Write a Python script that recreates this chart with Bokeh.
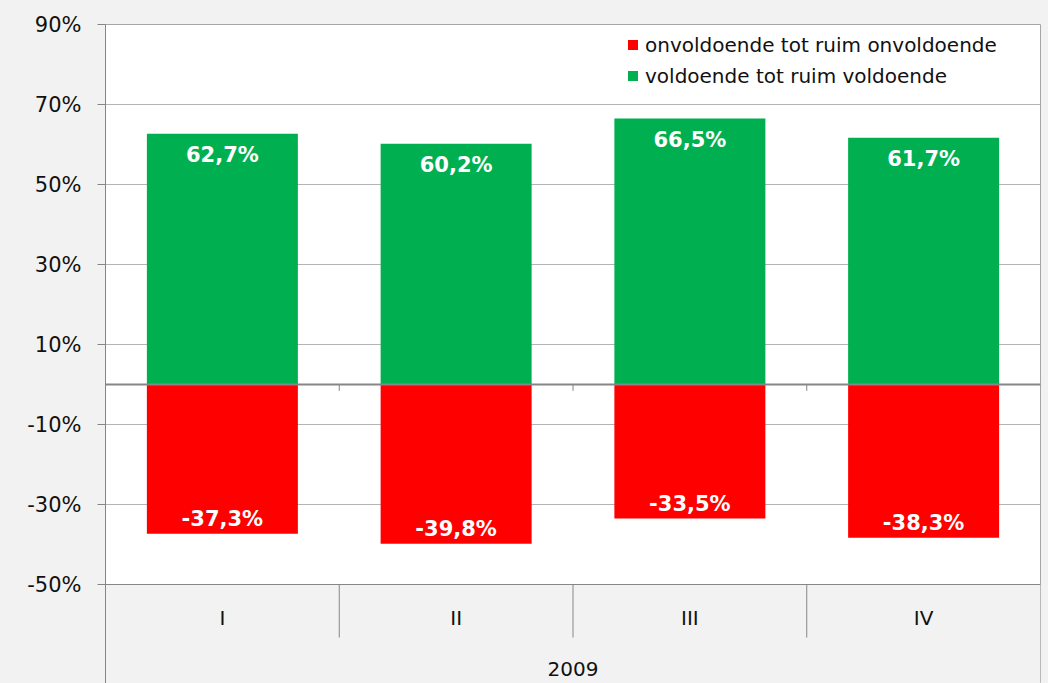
from bokeh.plotting import figure
from bokeh.models import (FactorRange, Range1d, FixedTicker, PrintfTickFormatter, Span,
                          Legend, LegendItem, ColumnDataSource)
from bokeh.core.properties import value
from bokeh.embed import file_html
from bokeh.resources import INLINE

# ---- data ----
categories = ["I", "II", "III", "IV"]
group_label = "2009"
voldoende = [62.7, 60.2, 66.5, 61.7]
onvoldoende = [-37.3, -39.8, -33.5, -38.3]
y_ticks = [-50, -30, -10, 10, 30, 50, 70, 90]
series_names = ["onvoldoende tot ruim onvoldoende", "voldoende tot ruim voldoende"]

RED = "#ff0000"
GREEN = "#00b050"
BG = "#f2f2f2"
FONT = "DejaVu Sans"
AXIS = "#868686"
GRID = "#b4b4b4"

Y_MIN = -74.75
Y_MAX = 90
AXIS_FLOOR = -50

def fmt(v):
    return ("%.1f" % v).replace(".", ",") + "%"

p = figure(width=1048, height=683,
           x_range=FactorRange(factors=categories, range_padding=0, factor_padding=0),
           y_range=Range1d(Y_MIN, Y_MAX),
           x_axis_location=None,
           output_backend="svg", toolbar_location=None,
           min_border_left=105, min_border_right=8, min_border_top=24, min_border_bottom=0)

p.background_fill_color = "white"
p.border_fill_color = BG
p.outline_line_color = "#a6a6a6"
p.outline_line_width = 1

# y axis
p.yaxis.ticker = FixedTicker(ticks=y_ticks)
p.yaxis.formatter = PrintfTickFormatter(format="%d%%")
p.yaxis.axis_line_color = AXIS
p.yaxis.major_tick_line_color = AXIS
p.yaxis.major_tick_out = 8
p.yaxis.major_tick_in = 0
p.yaxis.minor_tick_line_color = None
p.yaxis.major_label_text_font = FONT
p.yaxis.major_label_text_font_size = "21px"
p.yaxis.major_label_text_color = "#111111"
p.yaxis.major_label_standoff = 16

p.ygrid.ticker = FixedTicker(ticks=y_ticks)
p.ygrid.grid_line_color = GRID
p.ygrid.grid_line_width = 1
p.xgrid.visible = False

n = len(categories)

# grey category-axis region below the plot area (drawn first)
p.quad(left=[0], right=[n], bottom=[Y_MIN], top=[AXIS_FLOOR],
       fill_color=BG, line_color=None)

# bars
p.vbar(x=categories, top=voldoende, bottom=0, width=0.646, fill_color=GREEN, line_color=None)
p.vbar(x=categories, top=onvoldoende, bottom=0, width=0.646, fill_color=RED, line_color=None)

# zero line and plot-area floor
p.add_layout(Span(location=0, dimension="width", line_color=AXIS, line_width=2))
p.add_layout(Span(location=AXIS_FLOOR, dimension="width", line_color=AXIS, line_width=1))

bounds = list(range(1, n))
p.segment(x0=bounds, y0=[AXIS_FLOOR] * len(bounds), x1=bounds, y1=[-63.25] * len(bounds),
          line_color=AXIS, line_width=1)
# small ticks under zero line
p.segment(x0=bounds, y0=[0] * len(bounds), x1=bounds, y1=[-1.6] * len(bounds),
          line_color=AXIS, line_width=1)

p.text(x=categories, y=[-58.25] * n, text=categories,
       text_align="center", text_baseline="middle",
       text_font=value(FONT), text_font_size="20px", text_color="#111111")
p.text(x=[n / 2], y=[-71], text=[group_label],
       text_align="center", text_baseline="middle",
       text_font=value(FONT), text_font_size="20px", text_color="#111111")

# value labels
src_pos = ColumnDataSource(dict(x=categories, y=voldoende, t=[fmt(v) for v in voldoende]))
src_neg = ColumnDataSource(dict(x=categories, y=onvoldoende, t=[fmt(v) for v in onvoldoende]))
p.text(x="x", y="y", text="t", source=src_pos, y_offset=21,
       text_align="center", text_baseline="middle",
       text_font=value(FONT), text_font_style="bold", text_font_size="21px", text_color="white")
p.text(x="x", y="y", text="t", source=src_neg, y_offset=-15,
       text_align="center", text_baseline="middle",
       text_font=value(FONT), text_font_style="bold", text_font_size="21px", text_color="white")

# legend (marker renderers with a point outside the visible range)
r_red = p.scatter(x=[categories[0]], y=[Y_MIN - 100], marker="square", size=10,
                  fill_color=RED, line_color=None)
r_green = p.scatter(x=[categories[0]], y=[Y_MIN - 100], marker="square", size=10,
                    fill_color=GREEN, line_color=None)
legend = Legend(items=[LegendItem(label=series_names[0], renderers=[r_red]),
                       LegendItem(label=series_names[1], renderers=[r_green])],
                location=(515, 595))
legend.label_text_font = FONT
legend.label_text_font_size = "20px"
legend.label_text_color = "#111111"
legend.glyph_width = 25
legend.glyph_height = 25
legend.label_height = 25
legend.label_standoff = 0
legend.spacing = 6
legend.padding = 0
legend.margin = 0
legend.border_line_alpha = 0
legend.background_fill_alpha = 0
p.add_layout(legend)

html = file_html(p, INLINE)
html = html.replace("</head>", "<style>body{background-color:#f2f2f2;}</style></head>", 1)
open("out.html", "w").write(html)
